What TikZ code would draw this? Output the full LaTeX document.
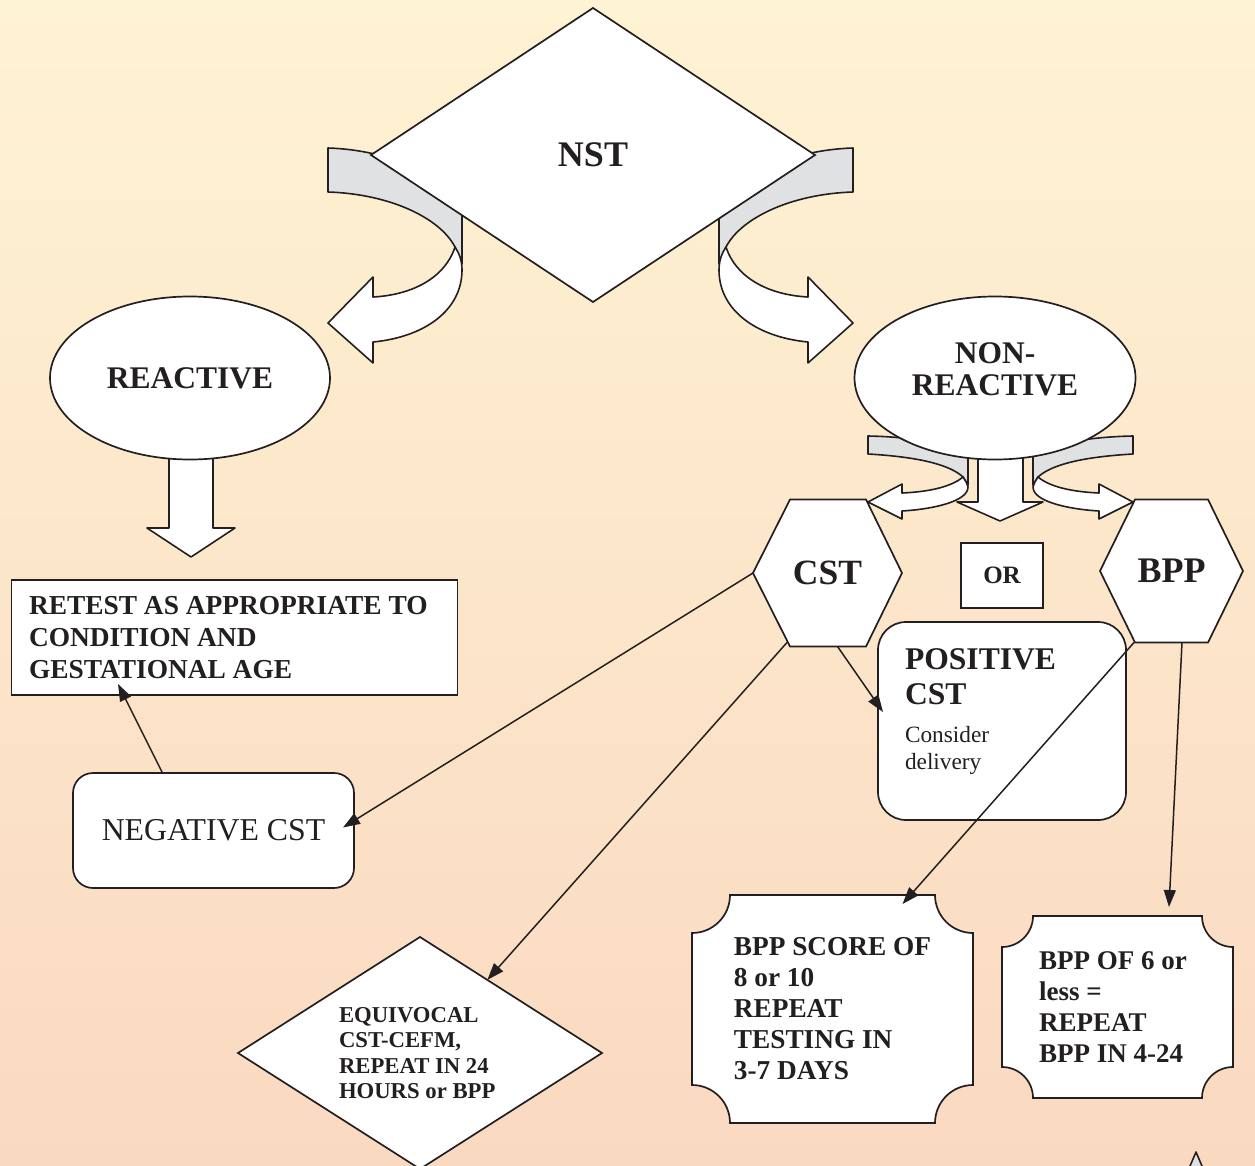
\documentclass[tikz,border=0pt]{standalone}
\usepackage{fontspec}
\setmainfont{Liberation Serif}
\usetikzlibrary{shapes.geometric,arrows.meta,calc}
\pgfdeclarelayer{bgfill}
\pgfdeclarelayer{blockarrows}
\pgfdeclarelayer{shapelayer}
\pgfsetlayers{bgfill,blockarrows,shapelayer,main}
\definecolor{bandgray}{RGB}{224,225,227}
\definecolor{bgtop}{RGB}{254,243,211}
\definecolor{bgbot}{RGB}{250,217,193}
\definecolor{ink}{RGB}{35,31,32}
\newcommand{\fsz}[2]{\fontsize{#1}{#2}\selectfont}
\newcommand{\bigcurvedarrow}{%
  \path[band] (328,-148) -- (328,-192) .. controls (390,-194) and (440,-218) .. (455,-247) -- (462,-264) -- (462,-210) .. controls (445,-175) and (390,-150) .. (328,-148) -- cycle;
  \path[blk] (455,-247) .. controls (445,-278) and (412,-295) .. (373,-297) -- (373,-277) -- (328,-323) -- (373,-363) -- (373,-342) .. controls (425,-337) and (462,-310) .. (462,-270) .. controls (462,-260) and (459,-253) .. (455,-247) -- cycle;}
\newcommand{\smallcurvedarrow}{%
  \path[band] (868,-436) -- (868,-454) .. controls (920,-457) and (950,-465) .. (963,-477) -- (968,-485) -- (968,-455) .. controls (955,-446) and (920,-437) .. (868,-436) -- cycle;
  \path[blk] (963,-477) .. controls (950,-488) and (925,-492) .. (902,-493) -- (902,-484) -- (868,-502) -- (902,-519) -- (902,-511) .. controls (935,-509) and (968,-501) .. (968,-487) .. controls (967,-483) and (965,-480) .. (963,-477) -- cycle;}
\tikzset{
  outl/.style={draw=ink, line width=1.7pt, fill=white},
  blk/.style={draw=ink, line width=1.6pt, fill=white, line join=round},
  band/.style={draw=ink, line width=1.6pt, fill=bandgray, line join=round},
  conn/.style={draw=ink, line width=1.5pt, -{Triangle[length=17pt,width=12pt]}},
  holder/.style={inner sep=0pt, outer sep=0pt, draw=none, text=ink},
  boxed/.style={draw=ink, line width=1.7pt, fill=white, inner sep=0pt, outer sep=0pt, text=ink},
}
\begin{document}
\begin{tikzpicture}[x=1pt,y=1pt]
\useasboundingbox (0,0) rectangle (1255,-1166);
\begin{pgfonlayer}{bgfill}
  \fill[top color=bgtop, bottom color=bgbot] (0,0) rectangle (1255,-1166);
\end{pgfonlayer}

\begin{pgfonlayer}{blockarrows}
  \bigcurvedarrow
  \begin{scope}[shift={(1181,0)},xscale=-1]\bigcurvedarrow\end{scope}
  \smallcurvedarrow
  \begin{scope}[shift={(2001,0)},xscale=-1]\smallcurvedarrow\end{scope}
  \path[blk] (978,-445) -- (978,-502) -- (957,-502) -- (1000,-521) -- (1043,-502) -- (1023,-502) -- (1023,-445) -- cycle;
  \path[blk] (169,-440) -- (169,-528) -- (147,-528) -- (191,-557) -- (235,-528) -- (213,-528) -- (213,-440) -- cycle;
  \path[band] (1196,-1152) -- (1184,-1180) -- (1208,-1180) -- cycle;
\end{pgfonlayer}

% nodes
\node[boxed, diamond, aspect=1.51, minimum width=444pt, minimum height=294pt, font=\fsz{36}{40}\bfseries] (nst) at (593,-155) {NST};
\node[boxed, ellipse, minimum width=280pt, minimum height=163pt, font=\fsz{31.5}{32}\bfseries] (react) at (190,-378) {REACTIVE};
\node[boxed, ellipse, minimum width=281pt, minimum height=163pt, align=center, text depth=18pt, font=\fsz{31.5}{32}\bfseries] (nonreact) at (995,-378) {NON-\\REACTIVE};
\node[holder, minimum width=149pt, minimum height=147pt, font=\fsz{35.5}{38}\bfseries] (cst) at (827.5,-573) {CST};
\node[holder, minimum width=143pt, minimum height=143pt, font=\fsz{36}{38}\bfseries] (bpp) at (1171.5,-571) {BPP};
\node[boxed, minimum width=82pt, minimum height=65pt, font=\fsz{25}{28}\bfseries] (orbox) at (1002,-575.5) {OR};
\node[boxed, minimum width=446pt, minimum height=115pt, text width=411pt, align=flush left, font=\fsz{27.4}{32}\bfseries] (retest) at (234.5,-637.5) {RETEST AS APPROPRIATE TO\\CONDITION AND\\GESTATIONAL AGE};
\node[boxed, rounded corners=20pt, minimum width=281pt, minimum height=115pt, font=\fsz{31.8}{34}] (neg) at (213.5,-830.5) {NEGATIVE CST};
\node[boxed, rounded corners=28pt, minimum width=248pt, minimum height=198pt] (pos) at (1002,-721) {};
\node[holder, anchor=north west, align=left, font=\fsz{31.6}{35}\bfseries] (postitle) at (905,-649) {POSITIVE\\CST};
\node[holder, anchor=north west, align=left, font=\fsz{23.3}{27}] (posnote) at (905,-726) {Consider\\delivery};
\node[holder, minimum width=281pt, minimum height=228pt, align=left, font=\fsz{27.3}{31}\bfseries] (score) at (832.5,-1009) {BPP SCORE OF\\8 or 10\\REPEAT\\TESTING IN\\3-7 DAYS};
\node[holder, minimum width=231pt, minimum height=182pt, text width=157pt, align=flush left, font=\fsz{27}{31}\bfseries] (six) at (1117.5,-1007) {BPP OF 6 or\\less =\\REPEAT\\BPP IN 4-24};
\node[boxed, diamond, aspect=1.57, minimum width=364pt, minimum height=232pt, text width=162pt, align=flush left, font=\fsz{22.7}{25.5}\bfseries] (equiv) at (420,-1053) {EQUIVOCAL\\CST-CEFM,\\REPEAT IN 24\\HOURS or BPP};

\begin{pgfonlayer}{shapelayer}
  \path[outl] (cst.west) -- ($(cst.north west)+(37,0)$) -- ($(cst.north east)+(-36,0)$) -- (cst.east) -- ($(cst.south east)+(-36,0)$) -- ($(cst.south west)+(37,0)$) -- cycle;
  \path[outl] (bpp.west) -- ($(bpp.north west)+(35,0)$) -- ($(bpp.north east)+(-35,0)$) -- (bpp.east) -- ($(bpp.south east)+(-35,0)$) -- ($(bpp.south west)+(35,0)$) -- cycle;
  \path[outl] ($(score.north west)+(38,0)$) -- ($(score.north east)+(-38,0)$) arc[start angle=180,end angle=270,radius=38] -- ($(score.south east)+(0,38)$) arc[start angle=90,end angle=180,radius=38] -- ($(score.south west)+(38,0)$) arc[start angle=0,end angle=90,radius=38] -- ($(score.north west)+(0,-38)$) arc[start angle=270,end angle=360,radius=38] -- cycle;
  \path[outl] ($(six.north west)+(31,0)$) -- ($(six.north east)+(-31,0)$) arc[start angle=180,end angle=270,radius=31] -- ($(six.south east)+(0,31)$) arc[start angle=90,end angle=180,radius=31] -- ($(six.south west)+(31,0)$) arc[start angle=0,end angle=90,radius=31] -- ($(six.north west)+(0,-31)$) arc[start angle=270,end angle=360,radius=31] -- cycle;
\end{pgfonlayer}

% connectors
\draw[conn] (cst.west) -- ($(neg.east)+(-11,3)$);
\draw[conn] ($(cst.south west)+(34,4)$) -- ($(equiv.north)!0.37!(equiv.east)$);
\draw[conn] ($(cst.south)+(10,0)$) -- ($(pos.west)+(5,9)$);
\draw[conn] ($(neg.north)+(-51,0)$) -- ($(retest.south)+(-116.5,11)$);
\draw[conn] ($(bpp.south west)+(34,0)$) -- ($(score.north)+(70,-9)$);
\draw[conn] ($(bpp.south)+(10.5,0)$) -- ($(six.north)+(51.5,9)$);
\end{tikzpicture}
\end{document}
